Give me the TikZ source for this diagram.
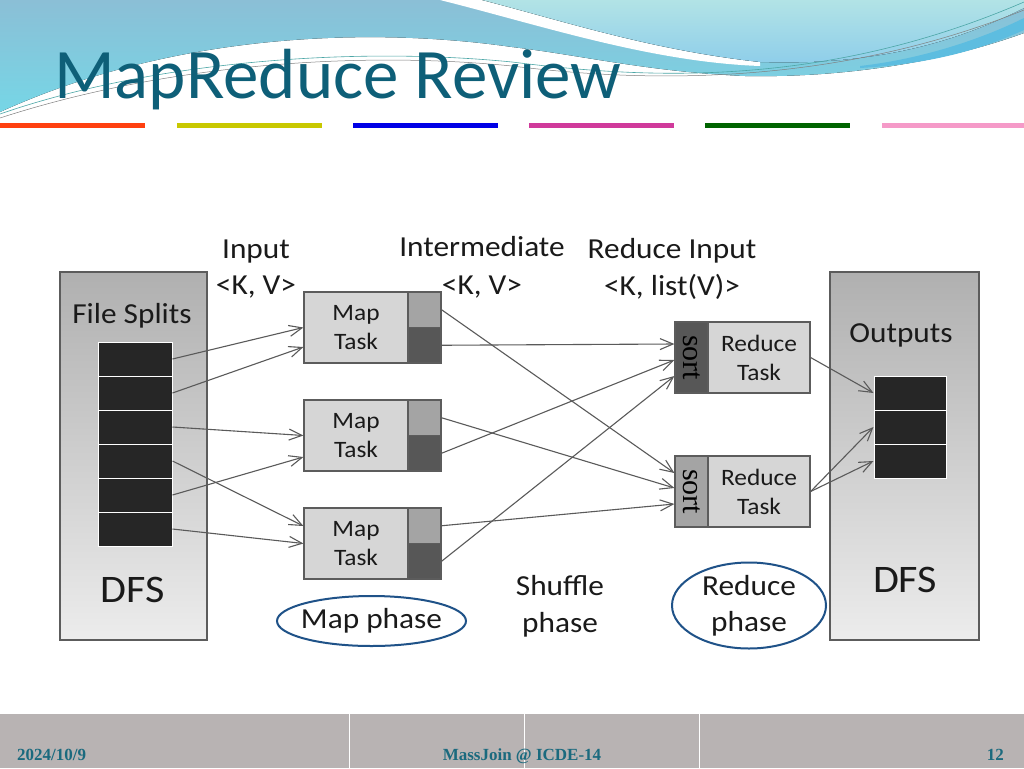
\documentclass[tikz,border=0pt]{standalone}
\usepackage{fontspec}
\setmainfont{Carlito}
\newfontfamily\wideface[FakeStretch=1.08]{Carlito}
\newfontfamily\serifface{Liberation Serif}
\usetikzlibrary{arrows.meta,shapes.geometric}

\definecolor{titleteal}{HTML}{0E5F78}
\definecolor{footteal}{HTML}{1B6A7E}
\definecolor{footgray}{HTML}{B8B3B3}
\definecolor{hdrblue}{HTML}{8BBFD6}
\definecolor{hdrcyan}{HTML}{76D6E6}
\definecolor{hdrlight}{HTML}{B2E3E6}
\definecolor{hdrsky}{HTML}{8DCDEA}
\definecolor{hdrdeep}{HTML}{5DBDE0}
\definecolor{ink}{HTML}{1A1A1A}
\definecolor{linegray}{HTML}{5A5A5A}
\definecolor{boxedge}{HTML}{5C5C5C}
\definecolor{dfstop}{HTML}{B0B0B0}
\definecolor{dfsbot}{HTML}{ECECEC}
\definecolor{blockblack}{HTML}{262626}
\definecolor{tasklight}{HTML}{D6D6D6}
\definecolor{stripmid}{HTML}{A4A4A4}
\definecolor{stripdark}{HTML}{575757}
\definecolor{phaseblue}{HTML}{1F5288}
\definecolor{barred}{HTML}{FF4010}
\definecolor{baryellow}{HTML}{C8C800}
\definecolor{barblue}{HTML}{0000E6}
\definecolor{barmagenta}{HTML}{D03A9B}
\definecolor{bargreen}{HTML}{006400}
\definecolor{barpink}{HTML}{F59AC8}

\begin{document}
\begin{tikzpicture}[x=1pt,y=-1pt,
  flow/.style={draw=linegray,line width=1.1pt,-{Straight Barb[length=13pt,width=11pt]}},
  dfsbox/.style={draw=boxedge,line width=1.2pt,top color=dfstop,bottom color=dfsbot,
    minimum height=368pt,inner sep=0pt},
  block/.style={draw=white,line width=1pt,fill=blockblack,minimum height=34pt,inner sep=0pt},
  taskbox/.style={draw=boxedge,line width=1.2pt,fill=tasklight,minimum height=71pt,
    inner sep=0pt,align=center,text=ink,font=\wideface\fontsize{23.5}{29}\selectfont},
  strip/.style={draw=boxedge,line width=1.2pt,minimum width=33pt,inner sep=0pt},
  label/.style={text=ink,inner sep=0pt,anchor=base,font=\wideface\fontsize{29}{36}\selectfont},
  phase/.style={ellipse,draw=phaseblue,line width=2pt,inner sep=0pt,align=center,
    text=ink,font=\wideface\fontsize{29}{36}\selectfont}]
  \useasboundingbox (0,0) rectangle (1024,768);
  \fill[white] (0,0) rectangle (1024,768);

  % header waves
  \fill[top color=hdrblue,bottom color=hdrcyan] (0,0) -- (1024,0) -- (1024,33)
    .. controls (950,60) and (850,78) .. (745,76)
    .. controls (650,72) and (580,55) .. (512,47)
    .. controls (380,28) and (180,30) .. (0,112) -- cycle;
  \fill[white] (440,0) .. controls (540,25) and (650,62) .. (760,66)
    -- (760,62) .. controls (650,50) and (560,20) .. (482,0) -- cycle;
  \fill[top color=hdrlight,bottom color=hdrsky] (482,0)
    .. controls (560,20) and (650,50) .. (760,62)
    .. controls (880,66) and (960,40) .. (1024,8) -- (1024,0) -- cycle;
  \fill[hdrdeep] (860,66) .. controls (930,58) and (990,35) .. (1024,18)
    -- (1024,30) .. controls (980,50) and (930,64) .. (860,68) -- cycle;
  \draw[teal!70,line width=0.6pt] (0,114) .. controls (150,62) and (350,46) .. (512,62)
    .. controls (640,78) and (820,90) .. (1024,2);
  \draw[gray,line width=0.5pt] (0,118) .. controls (160,66) and (350,50) .. (512,66)
    .. controls (640,82) and (830,88) .. (1024,10);

  % title and bars
  \node[anchor=base west,inner sep=0pt,text=titleteal,font=\fontsize{71}{74}\selectfont]
    (title) at (54,98) {MapReduce Review};
  \fill[barred] (0,123) rectangle (145,128);
  \fill[baryellow] (177,123) rectangle (322,128);
  \fill[barblue] (353,123) rectangle (498,128);
  \fill[barmagenta] (529,123) rectangle (674,128);
  \fill[bargreen] (705,123) rectangle (850,128);
  \fill[barpink] (882,123) rectangle (1024,128);

  % DFS boxes and blocks
  \node[dfsbox,minimum width=147pt] (dfsin) at (133.5,456) {};
  \node[dfsbox,minimum width=149pt] (dfsout) at (904.5,456) {};
  \foreach \i/\y in {1/359,2/393,3/427,4/461,5/495,6/529}
    \node[block,minimum width=74pt] (s\i) at (135,\y) {};
  \foreach \i/\y in {1/393,2/427,3/461}
    \node[block,minimum width=72pt] (o\i) at (910,\y) {};
  \node[label] (fs) at (132,323) {File Splits};
  \node[label,font=\wideface\fontsize{39}{42}\selectfont] (dfs1) at (133,602) {DFS};
  \node[label] (outs) at (901,342) {Outputs};
  \node[label,font=\wideface\fontsize{39}{42}\selectfont] (dfs2) at (905,592) {DFS};

  % map tasks
  \foreach \i/\y in {1/327.5,2/435.5,3/543.5}{
    \node[taskbox,minimum width=104pt] (m\i) at (356,\y) {Map\\Task};
    \node[strip,minimum height=35.5pt,fill=stripmid] (m\i a) at (424.5,\y-17.75) {};
    \node[strip,minimum height=35.5pt,fill=stripdark] (m\i b) at (424.5,\y+17.75) {};
  }

  % reduce tasks
  \node[strip,minimum height=71pt,fill=stripdark] (r1s) at (691.5,357.5)
    {\rotatebox{-90}{\serifface\fontsize{30}{30}\selectfont sort}};
  \node[taskbox,minimum width=102pt] (r1) at (759,357.5) {Reduce\\Task};
  \node[strip,minimum height=71pt,fill=stripmid] (r2s) at (691.5,491.5)
    {\rotatebox{-90}{\serifface\fontsize{30}{30}\selectfont sort}};
  \node[taskbox,minimum width=102pt] (r2) at (759,491.5) {Reduce\\Task};

  % column labels
  \node[label] (in1) at (256,258) {Input};
  \node[label] (in2) at (256,294) {<K, V>};
  \node[label] (mid1) at (482,256) {Intermediate};
  \node[label] (mid2) at (482,294) {<K, V>};
  \node[label] (red1) at (672,258) {Reduce Input};
  \node[label] (red2) at (672,295) {<K, list(V)>};

  % arrows
  \draw[flow] (s1.east) -- (m1.west);
  \draw[flow] (s2.east) -- ([yshift=-19.5pt]m1.west);
  \draw[flow] (s3.east) -- (m2.west);
  \draw[flow] (s4.east) -- ([yshift=17.5pt]m3.west);
  \draw[flow] (s5.east) -- ([yshift=-21.5pt]m2.west);
  \draw[flow] (s6.east) -- (m3.west);
  \draw[flow] (m1a.east) -- ([yshift=18.5pt]r2s.west);
  \draw[flow] (m1b.east) -- ([yshift=13.5pt]r1s.west);
  \draw[flow] (m2a.east) -- ([yshift=3.5pt]r2s.west);
  \draw[flow] (m2b.east) -- ([yshift=-2.5pt]r1s.west);
  \draw[flow] (m3a.east) -- ([yshift=-12.5pt]r2s.west);
  \draw[flow] (m3b.east) -- ([yshift=-18.5pt]r1s.west);
  \draw[flow] (r1.east) -- (o1.west);
  \draw[flow] (r2.east) -- (o2.west);
  \draw[flow] (r2.east) -- (o3.west);

  % phases
  \node[phase,minimum width=189pt,minimum height=50pt] (mapph) at (371.5,621)
    {\makebox[0pt]{Map phase}};
  \node[label] (shuf1) at (560,595) {Shuffle};
  \node[label] (shuf2) at (560,632) {phase};
  \node[phase,minimum width=154pt,minimum height=85pt] (redph) at (749,605.5) {Reduce\\phase};

  % footer
  \fill[footgray] (0,714) rectangle (1024,768);
  \foreach \x in {349.5,524.5,699.5}
    \draw[white,line width=1pt] (\x,714) -- (\x,768);
  \node[anchor=base west,inner sep=0pt,text=footteal,font=\serifface\bfseries\fontsize{17}{19}\selectfont]
    (date) at (17,760) {2024/10/9};
  \node[anchor=base,inner sep=0pt,text=footteal,font=\serifface\bfseries\fontsize{17}{19}\selectfont]
    (conf) at (522,760) {MassJoin @ ICDE-14};
  \node[anchor=base east,inner sep=0pt,text=footteal,font=\serifface\bfseries\fontsize{17}{19}\selectfont]
    (page) at (1004,760) {12};
\end{tikzpicture}
\end{document}
